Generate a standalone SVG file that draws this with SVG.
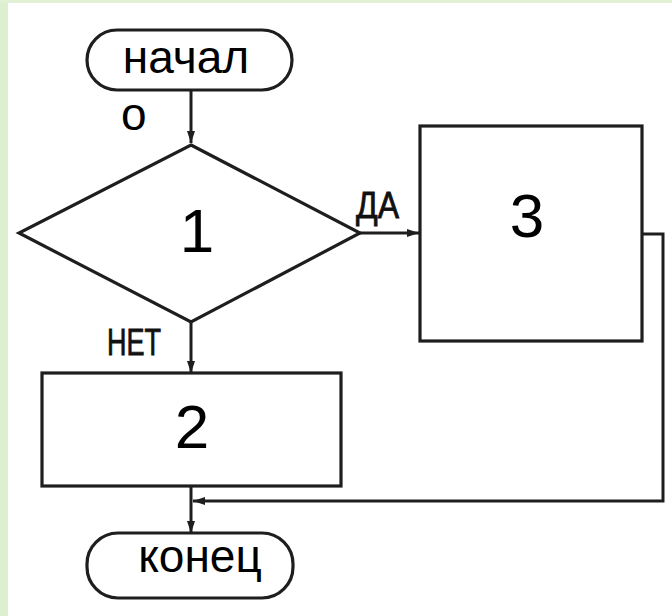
<svg xmlns="http://www.w3.org/2000/svg" width="672" height="616" viewBox="0 0 672 616">
<defs>
<style>
.shape{fill:#fff;stroke:#1e1e1e;stroke-width:3.2}
.line{fill:none;stroke:#1e1e1e;stroke-width:3}
.big{font-family:"Liberation Sans",Arial,sans-serif;font-size:62px;fill:#000;text-anchor:middle}
.word{font-family:"Liberation Sans",Arial,sans-serif;font-size:46px;fill:#000}
.lbl{font-family:"Liberation Sans",Arial,sans-serif;font-size:36px;fill:#111;stroke:#111;stroke-width:0.8}
</style>
<marker id="ah" viewBox="0 0 12 8" refX="12" refY="4" markerWidth="12" markerHeight="8" markerUnits="userSpaceOnUse" orient="auto">
<path d="M0,0 L12,4 L0,8 Z" fill="#1e1e1e"/>
</marker>
</defs>
<rect x="0" y="0" width="672" height="616" fill="#fff"/>
<rect x="0" y="0" width="8" height="616" fill="#dcefcf"/>
<rect x="0" y="0" width="672" height="3" fill="#e2f1d6"/>
<g id="connectors">
<path class="line" d="M191,90 V143" marker-end="url(#ah)"/>
<path class="line" d="M360,233 H419" marker-end="url(#ah)"/>
<path class="line" d="M191,322 V373" marker-end="url(#ah)"/>
<path class="line" d="M642,234 H663 V501 H193" marker-end="url(#ah)"/>
<path class="line" d="M191,486 V533" marker-end="url(#ah)"/>
<text class="lbl" x="356" y="218" textLength="43" lengthAdjust="spacingAndGlyphs">ДА</text>
<text class="lbl" x="107" y="355" textLength="54" lengthAdjust="spacingAndGlyphs">НЕТ</text>
</g>
<g id="start">
<rect class="shape" x="87" y="30" width="205" height="60" rx="30"/>
<text class="word" x="186" y="73" text-anchor="middle">начал</text>
<text class="word" x="121" y="130">о</text>
</g>
<g id="node1">
<polygon class="shape" points="191,145 360,233 191,322 19,233"/>
<text class="big" x="197" y="252" font-size="64">1</text>
</g>
<g id="node3">
<rect class="shape" x="420" y="126" width="222" height="215"/>
<text class="big" x="527" y="237">3</text>
</g>
<g id="node2">
<rect class="shape" x="42" y="373" width="299" height="113"/>
<text class="big" x="192" y="448">2</text>
</g>
<g id="end">
<rect class="shape" x="87" y="533" width="206" height="65" rx="31"/>
<text class="word" x="200" y="572" text-anchor="middle">конец</text>
</g>
</svg>
